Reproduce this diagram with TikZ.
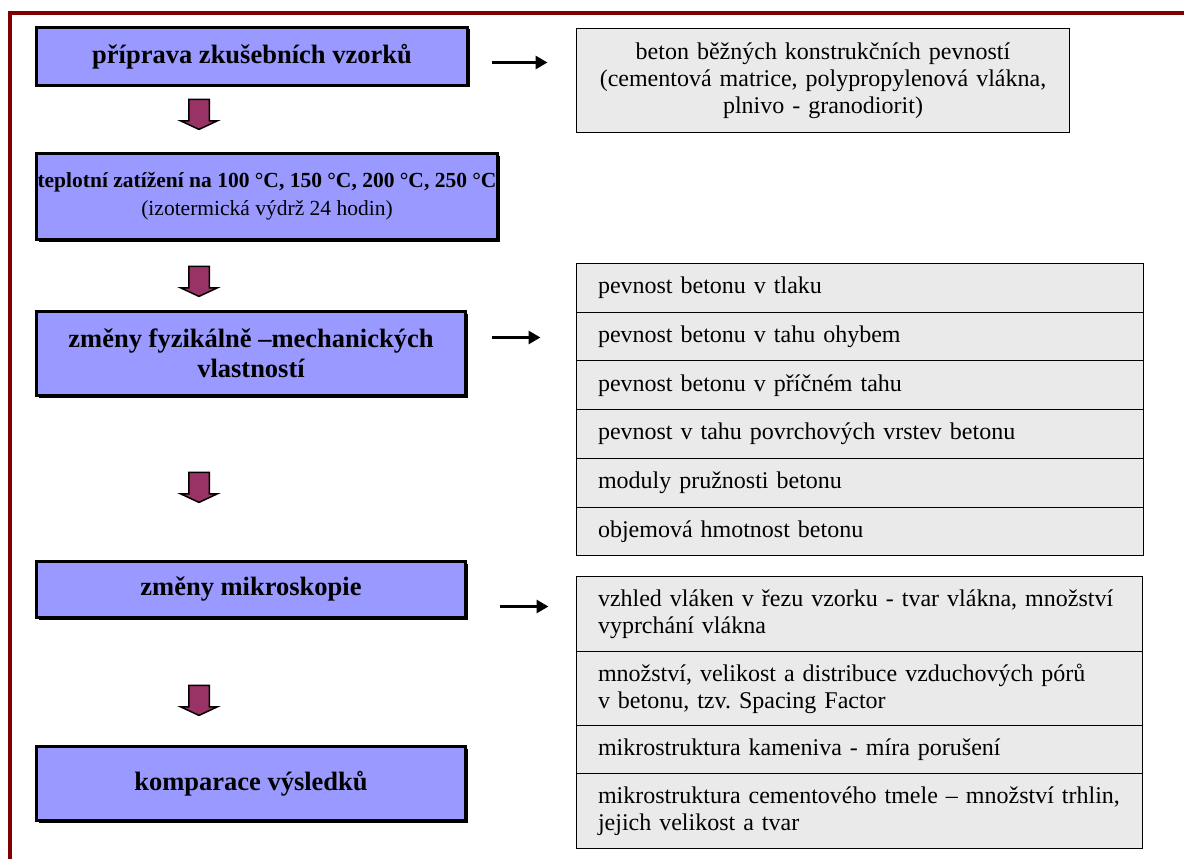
\documentclass[tikz,border=0pt]{standalone}
\usepackage{fontspec}
\setmainfont{Liberation Serif}
\usepackage{tikz}
\usetikzlibrary{positioning, shapes.arrows, arrows.meta, shadows}
\frenchspacing

\definecolor{framered}{HTML}{800000}
\definecolor{phaseblue}{HTML}{9999FF}
\definecolor{itemgray}{HTML}{EAEAEA}
\definecolor{arrowplum}{HTML}{993366}

\tikzset{
  phase/.style={draw, line width=3.5pt, fill=phaseblue, outer sep=0pt, inner sep=0pt,
                drop shadow={shadow xshift=2pt, shadow yshift=-2pt, fill=black, opacity=1},
                align=center, font=\fontsize{26.5}{30}\bfseries},
  item/.style={draw, line width=1pt, fill=itemgray, outer sep=0pt, inner xsep=21.5pt,
               inner ysep=0pt, text width=524pt, minimum width=567pt, align=left,
               font=\fontsize{24}{27}\selectfont},
  down/.style={single arrow, draw, line width=1.5pt, fill=arrowplum, rotate=-90,
               inner xsep=0pt, inner ysep=9.5pt, minimum height=30pt,
               single arrow head extend=8pt, single arrow tip angle=130},
  goes/.style={line width=3pt, -{Triangle[length=12pt,width=13pt]}},
}

\begin{document}
\begin{tikzpicture}[x=1pt, y=-1pt]
  \useasboundingbox (0,0) rectangle (1184,859);
  \draw [framered, line width=4pt] (10,859) -- (10,13) -- (1184,13);

  % left column
  \node [phase, minimum width=431pt, minimum height=58pt] (prep) at (252,56.5)
        {příprava zkušebních vzorků};
  \node [phase, minimum width=461pt, minimum height=86pt, font=\fontsize{21.5}{28}\selectfont] (heat) at (267,196.5)
        {\textbf{teplotní zatížení na 100 °C, 150 °C, 200 °C, 250 °C}\\(izotermická výdrž 24 hodin)};
  \node [phase, minimum width=429pt, minimum height=84pt] (props) at (251,353.5)
        {změny fyzikálně –mechanických\\vlastností};
  \node [phase, minimum width=429pt, minimum height=56pt] (micro) at (251,589.5)
        {změny mikroskopie};
  \node [phase, minimum width=429pt, minimum height=74pt] (compare) at (251,783.5)
        {komparace výsledků};

  \node [down] (d1) at (199,112) {};
  \node [down] (d2) at (199,279) {};
  \node [down] (d3) at (199,485) {};
  \node [down] (d4) at (199,698) {};

  % right column
  \node [item, text width=450pt, minimum width=491pt, minimum height=104pt, align=center] (concrete) at (823,80.5)
        {beton běžných konstrukčních pevností\\(cementová matrice, polypropylenová vlákna,\\plnivo - granodiorit)};

  \node [item, minimum height=48.7pt, anchor=north west] (p1) at (576.5,263.5) {pevnost betonu v tlaku};
  \node [item, minimum height=48.7pt, below=0pt of p1] (p2) {pevnost betonu v tahu ohybem};
  \node [item, minimum height=48.7pt, below=0pt of p2] (p3) {pevnost betonu v příčném tahu};
  \node [item, minimum height=48.7pt, below=0pt of p3] (p4) {pevnost v tahu povrchových vrstev betonu};
  \node [item, minimum height=48.7pt, below=0pt of p4] (p5) {moduly pružnosti betonu};
  \node [item, minimum height=48.7pt, below=0pt of p5] (p6) {objemová hmotnost betonu};

  \node [item, minimum width=566pt, text width=523pt, minimum height=75pt, anchor=north west] (m1) at (576.5,576.5)
        {vzhled vláken v řezu vzorku - tvar vlákna, množství\\vyprchání vlákna};
  \node [item, minimum width=566pt, text width=523pt, minimum height=74pt, below=0pt of m1] (m2)
        {množství, velikost a distribuce vzduchových pórů\\v betonu, tzv. Spacing Factor};
  \node [item, minimum width=566pt, text width=523pt, minimum height=48pt, below=0pt of m2] (m3)
        {mikrostruktura kameniva - míra porušení};
  \node [item, minimum width=566pt, text width=523pt, minimum height=75pt, below=0pt of m3] (m4)
        {mikrostruktura cementového tmele – množství trhlin,\\jejich velikost a tvar};

  % arrows to the right
  \draw [goes, shorten <=24pt, shorten >=29pt] ([yshift=-6pt]prep.east) -- ([yshift=-6pt]prep.east -| concrete.west);
  \draw [goes, shorten <=26pt, shorten >=36pt] ([yshift=16pt]props.east) -- ([yshift=16pt]props.east -| p1.west);
  \draw [goes, shorten <=34pt, shorten >=28pt] ([yshift=-17pt]micro.east) -- ([yshift=-17pt]micro.east -| m1.west);
\end{tikzpicture}
\end{document}
